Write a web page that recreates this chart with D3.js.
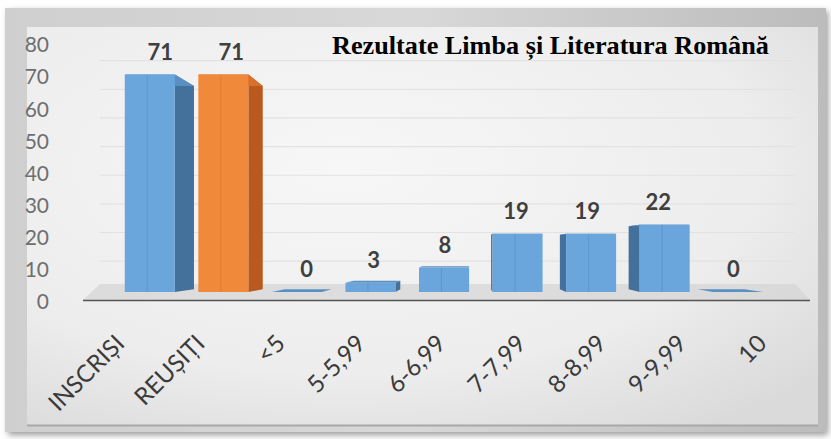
<!DOCTYPE html>
<html>
<head>
<meta charset="utf-8">
<script src="https://cdn.jsdelivr.net/npm/d3@7"></script>
<style>
  html, body { margin: 0; padding: 0; background: #fff; }
  svg { display: block; }
</style>
</head>
<body>
<svg id="chart" width="831" height="439"></svg>
<script>
// date
var categories = ["INSCRIȘI", "REUȘIȚI", "<5", "5-5,99", "6-6,99", "7-7,99", "8-8,99", "9-9,99", "10"];
var values = [71, 71, 0, 3, 8, 19, 19, 22, 0];
var yTicks = [0, 10, 20, 30, 40, 50, 60, 70, 80];
var title = "Rezultate Limba și Literatura Română";

var svg = d3.select("#chart");
var defs = svg.append("defs");

// fundal: rama gri + panou deschis
var frameGrad = defs.append("linearGradient").attr("id", "frame").attr("x1", 0).attr("y1", 0).attr("x2", 1).attr("y2", 0);
frameGrad.append("stop").attr("offset", "0%").attr("stop-color", "#cfcfcf");
frameGrad.append("stop").attr("offset", "50%").attr("stop-color", "#d8d8d8");
frameGrad.append("stop").attr("offset", "100%").attr("stop-color", "#bcbcbc");

var panelGrad = defs.append("radialGradient").attr("id", "panel").attr("cx", "40%").attr("cy", "35%").attr("r", "80%");
panelGrad.append("stop").attr("offset", "0%").attr("stop-color", "#f7f7f7");
panelGrad.append("stop").attr("offset", "65%").attr("stop-color", "#ededed");
panelGrad.append("stop").attr("offset", "100%").attr("stop-color", "#dadada");

var shadow = defs.append("filter").attr("id", "shadow").attr("x", "-5%").attr("y", "-5%").attr("width", "110%").attr("height", "110%");
shadow.append("feGaussianBlur").attr("stdDeviation", 3);

svg.append("rect").attr("x", 8).attr("y", 11).attr("width", 820).attr("height", 424)
  .attr("fill", "#9a9a9a").attr("filter", "url(#shadow)");
svg.append("rect").attr("x", 5).attr("y", 8).attr("width", 821).attr("height", 424).attr("fill", "url(#frame)");
svg.append("rect").attr("x", 27).attr("y", 27).attr("width", 791).attr("height", 398).attr("fill", "url(#panel)");
svg.append("line").attr("x1", 27).attr("x2", 818).attr("y1", 425.5).attr("y2", 425.5).attr("stroke", "#a8a8a8").attr("stroke-width", 2);

// scale
var x = d3.scaleBand().domain(categories).range([113, 775]).paddingInner(0.32).paddingOuter(0.16);
var yAxis = d3.scaleLinear().domain([0, 80]).range([302, 45]);
var yBar = d3.scaleLinear().domain([0, 80]).range([292, 47]);
var xLabel = d3.scalePoint().domain(categories).range([126, 768]);

// perspectiva
var vx = 470, vy = 250, k = 0.065;
function back(px, py) { return [px + (vx - px) * k, py + (vy - py) * k]; }

// podea
var floorBack = 284;
svg.append("polygon")
  .attr("points", [[83, 300], [810, 300], [795, floorBack], [100, floorBack]].map(function (p) { return p.join(","); }).join(" "))
  .attr("fill", "#d4d4d4").attr("opacity", 0.7);

// linii de grila pe peretele din spate
svg.append("g").selectAll("line").data(yTicks.slice(1)).enter().append("line")
  .attr("x1", 100).attr("x2", 795)
  .attr("y1", function (d) { return back(0, yBar(d))[1] + 0.5; })
  .attr("y2", function (d) { return back(0, yBar(d))[1] + 0.5; })
  .attr("stroke", "#e2e2e2").attr("stroke-width", 1.2);

// axa Y
svg.append("g").selectAll("text").data(yTicks).enter().append("text")
  .attr("x", 49).attr("y", function (d) { return yAxis(d); })
  .attr("dy", "0.35em").attr("text-anchor", "end")
  .attr("font-family", "Lato, 'Open Sans', sans-serif").attr("font-size", 21)
  .attr("fill", "#6e6e6e").text(function (d) { return d; });

// bare 3D
var palette = {
  blue: { front: "#6aa5dc", side: "#44719c", top: "#5a8fc2" },
  orange: { front: "#f08a3a", side: "#b9591d", top: "#d8712b" }
};
var bars = svg.append("g");
categories.forEach(function (c, i) {
  var v = values[i];
  var col = i === 1 ? palette.orange : palette.blue;
  var x0 = x(c), x1 = x(c) + x.bandwidth();
  var base = yBar(0), top = yBar(v);
  var g = bars.append("g");
  var poly = function (pts, fill) {
    g.append("polygon").attr("points", pts.map(function (p) { return p.join(","); }).join(" ")).attr("fill", fill);
  };
  // fata laterala
  if (v > 0) {
    if (x1 < vx) {
      poly([[x1, top], back(x1, top), back(x1, base), [x1, base]], col.side);
    } else if (x0 > vx) {
      poly([[x0, top], back(x0, top), back(x0, base), [x0, base]], col.side);
    }
  }
  // fata de sus
  poly([[x0, top], [x1, top], back(x1, top), back(x0, top)], col.top);
  // fata din fata
  if (v > 0) {
    g.append("rect").attr("x", x0).attr("y", top).attr("width", x.bandwidth()).attr("height", base - top)
      .attr("fill", col.front);
    g.append("line").attr("x1", x0 + x.bandwidth() * 0.45).attr("x2", x0 + x.bandwidth() * 0.45)
      .attr("y1", top).attr("y2", base).attr("stroke", col.side).attr("stroke-opacity", 0.25);
  }
});

// axa X (linia de baza)
svg.append("line").attr("x1", 83).attr("x2", 810).attr("y1", 300.5).attr("y2", 300.5)
  .attr("stroke", "#555").attr("stroke-width", 1.6);

// etichete valori
svg.append("g").selectAll("text").data(values).enter().append("text")
  .attr("x", function (d, i) { var cx = x(categories[i]) + x.bandwidth() / 2; return cx + (vx - cx) * k * 0.5 + (d === 0 ? 4 : 0); })
  .attr("y", function (d) { return yBar(d) - 15; })
  .attr("text-anchor", "middle")
  .attr("font-family", "Lato, 'Open Sans', sans-serif").attr("font-weight", "bold").attr("font-size", 22)
  .attr("fill", "#3f3f3f").text(function (d) { return d; });

// etichete categorii
svg.append("g").selectAll("text").data(categories).enter().append("text")
  .attr("transform", function (d) { return "translate(" + xLabel(d) + ",345) rotate(-45)"; })
  .attr("text-anchor", "end")
  .attr("font-family", "Lato, 'Open Sans', sans-serif").attr("font-size", 24)
  .attr("fill", "#3a3a3a").text(function (d) { return d; });

// titlu
var t = svg.append("text").attr("x", 332).attr("y", 54)
  .attr("font-family", "'Liberation Serif', 'Times New Roman', serif").attr("font-weight", "bold").attr("font-size", 22)
  .attr("fill", "#000").text(title);
var w = t.node().getComputedTextLength();
t.attr("font-size", 22 * 437 / w);
</script>
</body>
</html>
